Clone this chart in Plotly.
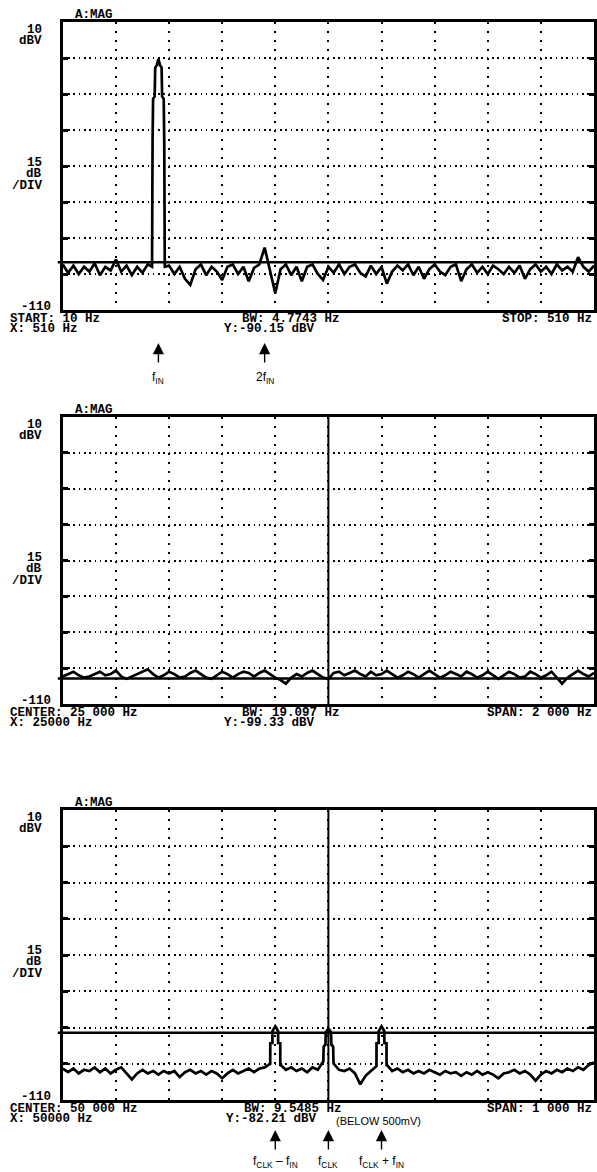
import numpy as np
import plotly.graph_objects as go

W, H = 597, 1172

# ---------------- data ----------------
# Panel 1 : START 10 Hz, STOP 510 Hz
p1_noise_freq = np.arange(10, 511, 5)
p1_noise_dbv = [
    -91, -94.5, -91.5, -95, -92, -94, -90.5, -95.5, -92, -93.5,
    -89, -94, -91.5, -95.5, -92, -94.5, -91, -92, -92, -92,
    -91.5, -95, -92, -97, -99.5, -93, -91, -95.5, -92, -94,
    -97.5, -92, -91, -95, -92, -98, -92.5, -91, -84, -93,
    -103, -93, -91, -95.5, -92, -98, -92, -91, -95, -97.5,
    -92, -94.5, -91, -95, -92, -91, -94.5, -96, -91.5, -95,
    -92, -99, -94, -91.5, -93.5, -91, -95.5, -92, -97, -93,
    -91, -94, -95.5, -92, -91, -98, -93, -91, -94.5, -92,
    -95, -91.5, -93, -95, -92, -94.5, -91.5, -97, -93, -91,
    -94, -92, -95, -91, -93.5, -92, -94, -88, -92, -94,
    -91.5,
]
p1_peak_freq = [94, 94.5, 95, 96.5, 97, 98.5, 100, 101.5, 103, 103.5, 105, 105.5, 106]
p1_peak_dbv = [-92, -40, -22, -21, -9, -8, -5.5, -8, -9, -21, -22, -40, -92]
p1_marker_y = -90.15

# Panel 2 : CENTER 25 000 Hz, SPAN 2 000 Hz
p2_freq = np.arange(24000, 26001, 20)
p2_dbv = [
    -98.5, -97.5, -96.5, -98, -99, -98.5, -97.5, -96.5, -98, -97.5,
    -96, -98.5, -99.5, -98.5, -97.5, -96.5, -95.5, -97.5, -99, -98,
    -96.5, -97.5, -99, -98.5, -97, -96, -97.5, -99, -99.5, -98,
    -96.5, -97.5, -99, -97.5, -96.5, -97, -98.5, -97, -96, -97.5,
    -99, -100, -101.5, -99, -97.5, -98.5, -97, -96, -97.5, -99,
    -99.5, -97, -96.5, -98, -97, -96, -97.5, -98.5, -96.5, -98,
    -97.5, -96, -97.5, -99, -98, -96.5, -97.5, -99, -97.5, -96,
    -97.5, -99, -98, -96.5, -97.5, -98.5, -96.5, -97.5, -99, -98,
    -96.5, -98, -99.5, -98, -96.5, -97.5, -99, -98.5, -96.5, -97.5,
    -99, -98, -96.5, -99, -101.5, -99, -97.5, -96, -97.5, -98.5,
    -97,
]
p2_marker_x = 25000
p2_marker_y = -99.33

# Panel 3 : CENTER 50 000 Hz, SPAN 1 000 Hz
p3_noise_freq = np.arange(49500, 50501, 10)
p3_noise_dbv = [
    -97, -98.5, -97, -99, -97.5, -98, -96.5, -98.5, -97, -99,
    -97.5, -96.5, -99, -101.5, -99, -97.5, -99, -98, -99.5, -98,
    -99, -98, -100.5, -98.5, -97.5, -99, -98, -99.5, -98, -99,
    -101, -99, -97.5, -99, -98, -97, -98.5, -97, -96.5, -95,
    -95, -95.5, -97.5, -96.5, -98, -97, -98.5, -96.5, -97.5, -94,
    -94, -95, -97.5, -98, -97, -99, -103.5, -100, -98, -96,
    -96, -95.5, -98, -97, -98.5, -97.5, -99, -98, -99, -97.5,
    -98.5, -99.5, -98, -99, -98.5, -100, -98.5, -99.5, -98, -99.5,
    -98.5, -99.5, -101, -99, -98.5, -97.5, -99, -98, -99.5, -102,
    -99.5, -98, -99, -97.5, -98.5, -97, -98, -96.5, -97.5, -95.5,
    -94.5,
]
p3_peak_freq = [
    49890.5, 49890.6, 49894.6, 49894.7, 49898, 49900, 49902, 49905.3, 49905.4, 49909.4, 49909.5,
    49990.5, 49991, 49994.5, 49995, 49998, 50000, 50002, 50005, 50005.5, 50009, 50009.5,
    50090.5, 50090.6, 50094.6, 50094.7, 50098, 50100, 50102, 50105.3, 50105.4, 50109.4, 50109.5,
]
p3_peak_dbv = [
    -95, -86.5, -86.4, -81.5, -80.2, -79.5, -80.2, -81.5, -86.4, -86.5, -95.5,
    -94, -88, -87, -82, -81, -80.5, -81, -82, -87, -88, -94,
    -96, -86.5, -86.4, -81.5, -80.2, -79.5, -80.2, -81.5, -86.4, -86.5, -95.5,
]
p3_peak_centers = [49900, 50000, 50100]
p3_marker_x = 50000
p3_marker_y = -82.21

# ---------------- helpers ----------------
def merge(nf, nd, pf, pd, centers, half):
    nf = np.asarray(nf, float)
    nd = np.asarray(nd, float)
    keep = np.ones(len(nf), bool)
    for c in centers:
        keep &= np.abs(nf - c) > half
    f = np.concatenate([nf[keep], np.asarray(pf, float)])
    d = np.concatenate([nd[keep], np.asarray(pd, float)])
    o = np.argsort(f, kind="stable")
    return f[o], d[o]

def px(x):
    return x / W

def py(y):
    return 1 - y / H

p1_f, p1_d = merge(p1_noise_freq, p1_noise_dbv, p1_peak_freq, p1_peak_dbv, [100], 8)
p3_f, p3_d = merge(p3_noise_freq, p3_noise_dbv, p3_peak_freq, p3_peak_dbv, p3_peak_centers, 9.6)

LEFT, RIGHT = 63, 596
panels = [(22, 310), (417, 704), (810, 1100)]
xranges = [(10, 510, 10, 50), (24000, 26000, 24000, 200), (49500, 50500, 49500, 100)]

fig = go.Figure()
line = dict(color="black", width=2.7)
fig.add_trace(go.Scatter(x=p1_f, y=p1_d, mode="lines", line=line, xaxis="x", yaxis="y", showlegend=False))
fig.add_trace(go.Scatter(x=p2_freq, y=p2_dbv, mode="lines", line=line, xaxis="x2", yaxis="y2", showlegend=False))
fig.add_trace(go.Scatter(x=p3_f, y=p3_d, mode="lines", line=line, xaxis="x3", yaxis="y3", showlegend=False))

layout = dict(
    width=W, height=H, margin=dict(l=0, r=0, t=0, b=0),
    paper_bgcolor="white", plot_bgcolor="white", showlegend=False,
)
for i, ((top, bot), (x0, x1, t0, dt)) in enumerate(zip(panels, xranges)):
    sfx = "" if i == 0 else str(i + 1)
    layout["xaxis" + sfx] = dict(
        domain=[px(LEFT), px(RIGHT)], range=[x0, x1], anchor="y" + sfx,
        tick0=t0, dtick=dt, showticklabels=False, ticks="",
        showgrid=True, gridcolor="black", gridwidth=1.6, griddash="1.6px,7.4px",
        showline=True, linecolor="black", linewidth=2.5, mirror=True, zeroline=False,
    )
    layout["yaxis" + sfx] = dict(
        domain=[py(bot), py(top)], range=[-110, 10], anchor="x" + sfx,
        tickvals=[-95, -80, -65, -50, -35, -20, -5], showticklabels=False,
        ticks="inside", ticklen=5, tickwidth=2.5, tickcolor="black",
        showgrid=True, gridcolor="black", gridwidth=1.6, griddash="1.6px,3.7px",
        showline=True, linecolor="black", linewidth=2.5, mirror="ticks", zeroline=False,
    )
fig.update_layout(**layout)

# marker lines
shapes = []
for i, my in enumerate([p1_marker_y, p2_marker_y, p3_marker_y]):
    sfx = "" if i == 0 else str(i + 1)
    shapes.append(dict(type="line", xref="paper", yref="y" + sfx, x0=px(58), x1=px(RIGHT),
                       y0=my, y1=my, line=dict(color="black", width=2.5)))
for sfx, mx in [("2", p2_marker_x), ("3", p3_marker_x)]:
    shapes.append(dict(type="line", xref="x" + sfx, yref="y" + sfx + " domain", x0=mx, x1=mx,
                       y0=0, y1=1, line=dict(color="black", width=2)))
fig.update_layout(shapes=shapes)

MONO = "Liberation Mono, DejaVu Sans Mono, monospace"
SANS = "Liberation Sans, Arial, sans-serif"
anns = []

def txt(t, x, y, xa="left", size=12.5, fam=MONO, bold=True):
    anns.append(dict(text=("<b>%s</b>" % t) if bold else t, xref="paper", yref="paper",
                     x=px(x), y=py(y), xanchor=xa, yanchor="middle", showarrow=False,
                     font=dict(family=fam, size=size, color="black")))

bottom_texts = [
    ("START: 10 Hz", "X: 510 Hz", "BW: 4.7743 Hz", "Y:-90.15 dBV", "STOP: 510 Hz", 292, 270),
    ("CENTER: 25 000 Hz", "X: 25000 Hz", "BW: 19.097 Hz", "Y:-99.33 dBV", "SPAN: 2 000 Hz", 292, 270),
    ("CENTER: 50 000 Hz", "X: 50000 Hz", "BW: 9.5485 Hz", "Y:-82.21 dBV", "SPAN: 1 000 Hz", 294, 272),
]
for (top, bot), (l1, l2, c1, c2, r1, cx1, cx2) in zip(panels, bottom_texts):
    txt("A:MAG", 73, top - 7)
    txt("10", 44, top + 8, "right")
    txt("dBV", 44, top + 19, "right")
    txt("15", 44, top + 141, "right")
    txt("dB", 44, top + 152, "right")
    txt("/DIV", 45, top + 164, "right")
    txt("-110", 53, bot - 3, "right")
    txt(l1, 8, bot + 9)
    txt(l2, 8, bot + 19)
    txt(c1, cx1, bot + 9, "center")
    txt(c2, cx2, bot + 19, "center")
    txt(r1, 596, bot + 9, "right")

txt("(BELOW 500mV)", 335, 1121, "left", 11, SANS, False)

def arrow(xref, xv, head_y, label, label_y):
    anns.append(dict(text="", xref=xref, yref="paper", x=xv, y=py(head_y), ax=0, ay=21,
                     showarrow=True, arrowhead=2, arrowsize=1.6, arrowwidth=1.4,
                     arrowcolor="black", standoff=0))
    anns.append(dict(text=label, xref=xref, yref="paper", x=xv, y=py(label_y),
                     xanchor="center", yanchor="middle", showarrow=False,
                     font=dict(family=SANS, size=12, color="black")))

arrow("x", 100, 343, "f<sub>IN</sub>", 378)
arrow("x", 200, 343, "2f<sub>IN</sub>", 378)
arrow("x3", 49900, 1130, "f<sub>CLK</sub> – f<sub>IN</sub>", 1162)
arrow("x3", 50000, 1130, "f<sub>CLK</sub>", 1162)
arrow("x3", 50100, 1130, "f<sub>CLK</sub> + f<sub>IN</sub>", 1162)

fig.update_layout(annotations=anns)
fig.write_html("out.html", config={"displayModeBar": False},
               post_script="document.body.style.margin='0';document.body.style.overflow='hidden';")
